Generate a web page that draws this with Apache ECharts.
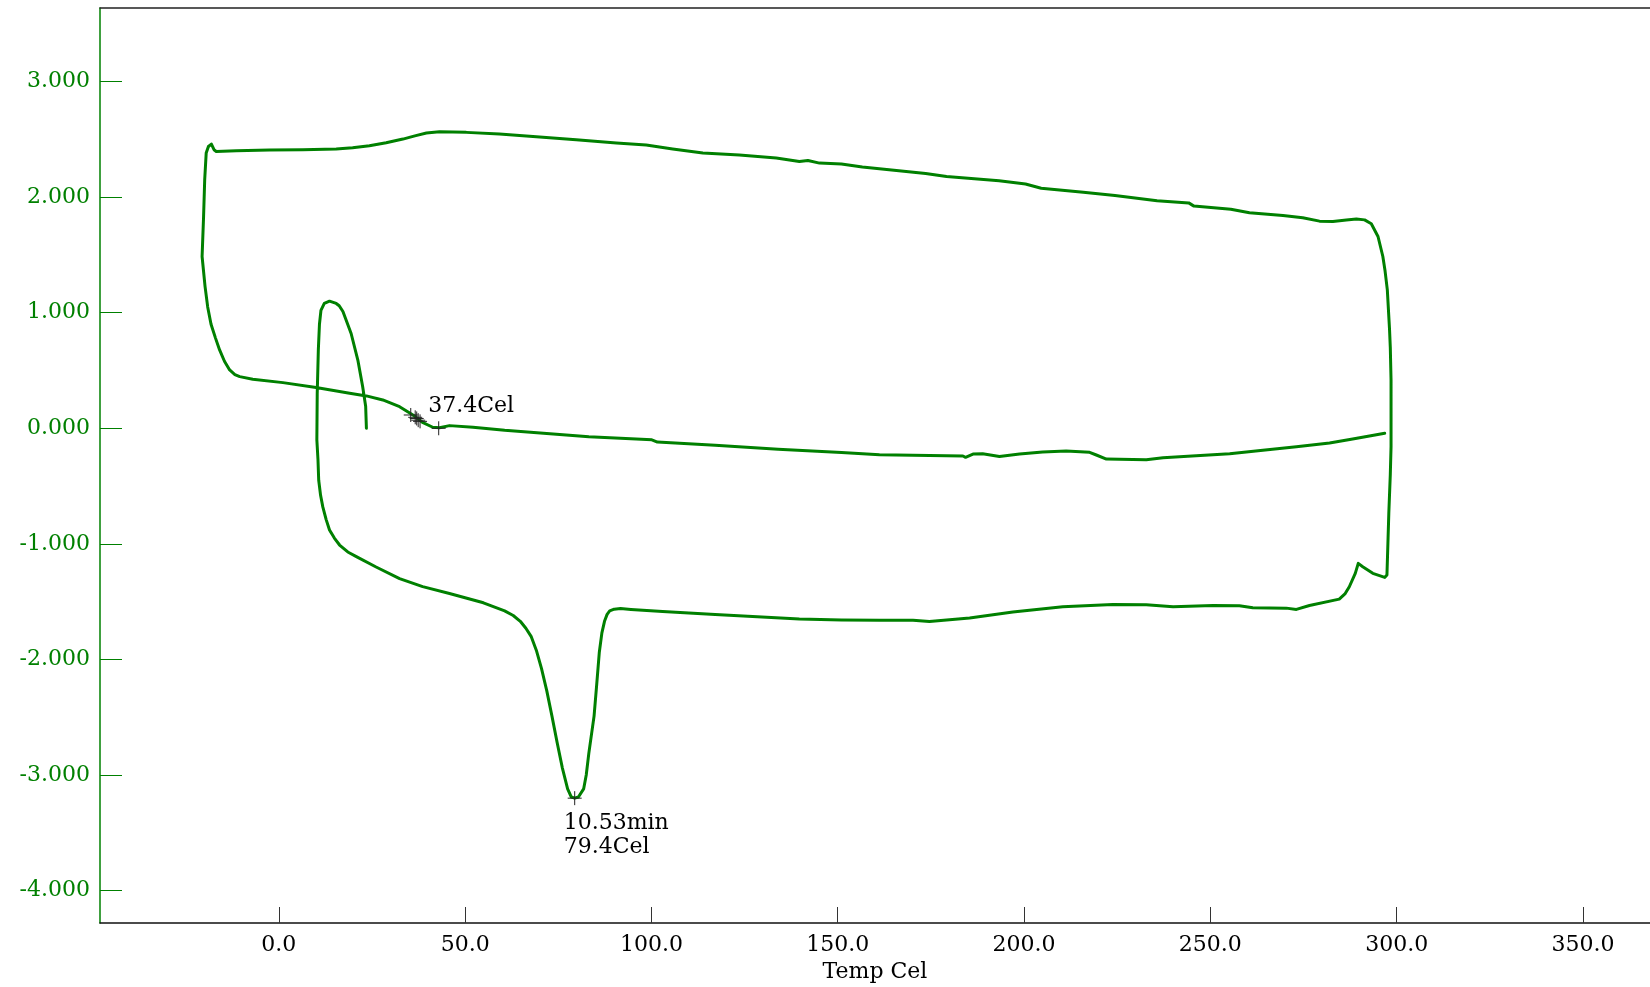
<!DOCTYPE html>
<html>
<head>
<meta charset="utf-8">
<script src="https://cdn.jsdelivr.net/npm/echarts@6/dist/echarts.min.js"></script>
<style>
html,body{margin:0;padding:0;background:#fff;overflow:hidden;}
#chart{width:1650px;height:987px;}
</style>
</head>
<body>
<div id="chart"></div>
<script>
// [Temp Cel, DSC signal]
var initialLoop = [[23.5,0.0],[23.3,0.19],[22.5,0.36],[21.2,0.59],[19.4,0.82],[17.2,1.01],[16.2,1.06],[15.4,1.08],[13.6,1.10],[12.2,1.08],[11.3,1.02],[10.9,0.90],[10.6,0.68],[10.3,0.30],[10.2,-0.10],[10.5,-0.27],[10.7,-0.45],[11.2,-0.58],[11.8,-0.68],[12.7,-0.79],[13.6,-0.88],[14.9,-0.95],[16.3,-1.01],[18.5,-1.07],[20.8,-1.11],[26.1,-1.20],[32.4,-1.30],[38.6,-1.37],[45.8,-1.43],[54.9,-1.51],[60.6,-1.58]];
var meltPeak = [[62.9,-1.62],[64.8,-1.67],[66.3,-1.73],[67.7,-1.80],[69.1,-1.92],[70.5,-2.08],[71.9,-2.27],[73.3,-2.49],[74.7,-2.72],[76.1,-2.94],[77.5,-3.12],[78.5,-3.19],[79.4,-3.20],[80.4,-3.19],[81.8,-3.12],[82.5,-3.00],[83.2,-2.81],[84.6,-2.49],[85.3,-2.22],[86.0,-1.94],[86.7,-1.77],[87.4,-1.67],[88.1,-1.61],[88.8,-1.58],[90.0,-1.565],[91.7,-1.56]];
var lowerBase = [[94.5,-1.567],[103.0,-1.585],[117.1,-1.612],[128.4,-1.630],[139.7,-1.649],[151.0,-1.658],[161.2,-1.660],[170.2,-1.660],[174.6,-1.671],[185.4,-1.642],[197.0,-1.590],[210.4,-1.545],[223.8,-1.524],[232.8,-1.527],[240.0,-1.545],[250.7,-1.533],[257.8,-1.536],[261.4,-1.553],[270.4,-1.556],[273.1,-1.567],[276.6,-1.533],[284.6,-1.478],[286.2,-1.43],[287.3,-1.371],[288.9,-1.255],[289.7,-1.169],[290.9,-1.198],[293.6,-1.255],[296.8,-1.290],[297.4,-1.270]];
var rightRise = [[297.7,-0.95],[297.9,-0.736],[298.3,-0.40],[298.5,-0.159],[298.5,0.418],[298.3,0.70],[298.1,0.851],[297.5,1.197],[296.9,1.36],[296.3,1.486],[295.0,1.659],[293.2,1.769],[291.4,1.803],[289.2,1.810],[286.5,1.801],[282.9,1.789],[279.3,1.792],[274.8,1.821],[269.5,1.841],[260.5,1.864]];
var topCurve = [[255.5,1.895],[245.6,1.922],[244.2,1.950],[235.7,1.968],[224.4,2.014],[215.9,2.041],[204.6,2.077],[200.4,2.113],[193.3,2.141],[179.2,2.178],[173.6,2.205],[165.1,2.232],[156.6,2.260],[151.0,2.287],[145.1,2.294],[142.0,2.317],[139.7,2.308],[133.5,2.338],[123.6,2.364],[113.8,2.381],[105.7,2.416],[98.6,2.450],[90.6,2.468],[79.8,2.496],[68.2,2.525],[59.2,2.545],[50.3,2.560],[43.1,2.565],[39.6,2.554],[36.5,2.53],[33.3,2.502],[28.8,2.47],[24.3,2.444],[19.8,2.426],[15.4,2.416],[6.4,2.410],[-2.5,2.407],[-11.4,2.401],[-16.8,2.395],[-17.4,2.41],[-18.1,2.459],[-18.9,2.438],[-19.5,2.381]];
var leftDrop = [[-19.9,2.150],[-20.2,1.832],[-20.5,1.572],[-20.6,1.486],[-20.1,1.486],[-19.8,1.226],[-19.1,1.05],[-18.2,0.90],[-17.0,0.78],[-15.9,0.678],[-14.6,0.58],[-13.2,0.505],[-11.8,0.465],[-10.5,0.447],[-7.0,0.424]];
var middleCurve = [[1.1,0.395],[10.0,0.352],[19.0,0.303],[23.5,0.280],[27.9,0.245],[32.4,0.187],[36.0,0.115],[38.7,0.048],[41.3,0.009],[43.1,0.005],[45.8,0.023],[52.1,0.009],[60.6,-0.018],[71.9,-0.045],[83.2,-0.073],[94.5,-0.091],[100.1,-0.100],[101.6,-0.119],[117.1,-0.146],[134.0,-0.182],[151.0,-0.209],[161.2,-0.229],[183.6,-0.240],[184.3,-0.251],[186.3,-0.223],[188.9,-0.220],[193.4,-0.245],[198.8,-0.223],[205.0,-0.205],[211.3,-0.197],[217.6,-0.208],[219.4,-0.231],[222.1,-0.266],[225.6,-0.269],[232.8,-0.272],[237.3,-0.254],[246.2,-0.237],[255.2,-0.220],[264.1,-0.191],[273.1,-0.159],[282.0,-0.127],[288.2,-0.093],[292.7,-0.067],[296.8,-0.043]];

var onsetMarks = [[35.4,0.115],[36.6,0.095],[37.0,0.085],[37.9,0.06],[42.9,0.0]];
var labelMark37 = [[37.4,0.07]];
var peakMark = [[79.4,-3.20]];
var label37 = '37.4Cel';
var labelPeak = '10.53min\n79.4Cel';

var xTicks = [0,50,100,150,200,250,300,350];
var yTicks = [-4,-3,-2,-1,0,1,2,3];
var xName = 'Temp Cel';

var curve = [].concat(initialLoop, meltPeak, lowerBase, rightRise, topCurve, leftDrop, middleCurve);

var FONT = 'DejaVu Serif';
var GREEN = '#008000';
var crossSym = 'path://M5,0 L5,10 M0,5 L10,5';

var chart = echarts.init(document.getElementById('chart'), null, {renderer:'canvas'});
chart.setOption({
  animation: false,
  backgroundColor: '#ffffff',
  grid: {left: 100, top: 8, right: 0, bottom: 64, containLabel: false, outerBoundsMode: 'none'},
  xAxis: [{
    type: 'value', min: -48, max: 368, position: 'bottom',
    name: xName, nameLocation: 'middle', nameGap: 36,
    nameTextStyle: {color: '#000', fontFamily: FONT, fontSize: 22},
    axisLine: {show: true, onZero: false, lineStyle: {color: '#111', width: 1.5}},
    axisTick: {show: true, inside: true, length: 16, customValues: xTicks, lineStyle: {color: '#333', width: 1}},
    axisLabel: {show: true, customValues: xTicks, margin: 11, color: '#000', fontFamily: FONT, fontSize: 22,
      formatter: function (v) { return v.toFixed(1); }},
    splitLine: {show: false}
  }, {
    type: 'value', min: -48, max: 368, position: 'top',
    axisLine: {show: true, onZero: false, lineStyle: {color: '#222', width: 1.5}},
    axisTick: {show: false}, axisLabel: {show: false}, splitLine: {show: false}
  }],
  yAxis: [{
    type: 'value', min: -4.28, max: 3.636, position: 'left',
    axisLine: {show: true, onZero: false, lineStyle: {color: GREEN, width: 1.5}},
    axisTick: {show: true, inside: true, length: 22, customValues: yTicks, lineStyle: {color: GREEN, width: 1}},
    axisLabel: {show: true, customValues: yTicks, margin: 10, color: GREEN, fontFamily: FONT, fontSize: 22,
      formatter: function (v) { return v.toFixed(3); }},
    splitLine: {show: false}
  }],
  series: [{
    type: 'line', data: curve, xAxisIndex: 0, yAxisIndex: 0,
    showSymbol: false, smooth: false,
    lineStyle: {color: GREEN, width: 3, join: 'round', cap: 'round'},
    silent: true, z: 2
  }, {
    type: 'scatter', data: onsetMarks, symbol: crossSym, symbolSize: 14,
    itemStyle: {color: 'rgba(0,0,0,0)', borderColor: '#222', borderWidth: 1, opacity: 1}, z: 3, silent: true
  }, {
    type: 'scatter', data: labelMark37, symbol: crossSym, symbolSize: 14,
    itemStyle: {color: 'rgba(0,0,0,0)', borderColor: '#222', borderWidth: 1, opacity: 1}, z: 3, silent: true,
    label: {show: true, position: 'inside', align: 'left', verticalAlign: 'middle', offset: [10, -14],
      formatter: label37, color: '#000', fontFamily: FONT, fontSize: 22}
  }, {
    type: 'scatter', data: peakMark, symbol: crossSym, symbolSize: 14,
    itemStyle: {color: 'rgba(0,0,0,0)', borderColor: '#222', borderWidth: 1, opacity: 1}, z: 3, silent: true,
    label: {show: true, position: 'inside', align: 'left', verticalAlign: 'middle', offset: [-11, 37],
      lineHeight: 24, formatter: labelPeak, color: '#000', fontFamily: FONT, fontSize: 22}
  }]
});
</script>
</body>
</html>
